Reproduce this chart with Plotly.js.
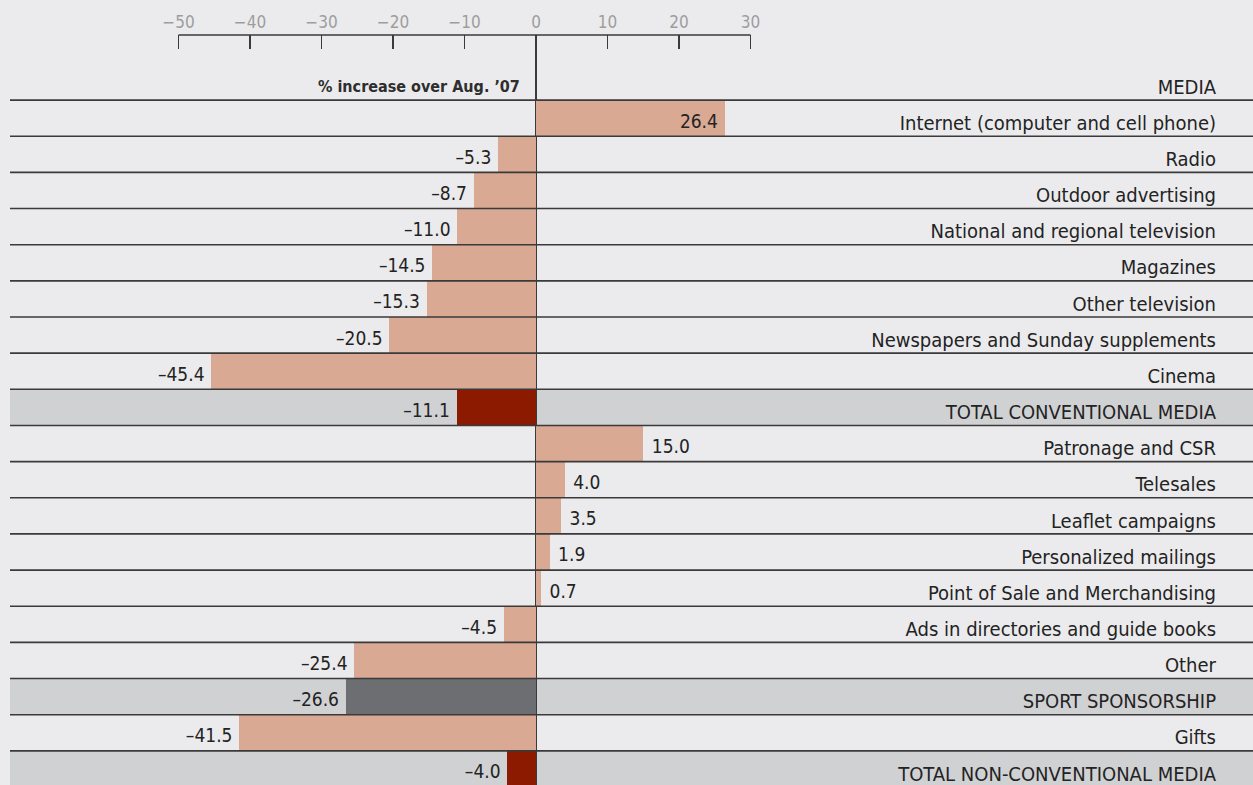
<!DOCTYPE html>
<html>
<head>
<meta charset="utf-8">
<script src="https://cdn.plot.ly/plotly-3.0.1.min.js"></script>
<style>
html,body{margin:0;padding:0;background:#ebebed;overflow:hidden;}
#chart{width:1253px;height:787px;}
</style>
</head>
<body>
<div id="chart"></div>
<script>
// ---- data ----
var categories = [
  "MEDIA",
  "Internet (computer and cell phone)",
  "Radio",
  "Outdoor advertising",
  "National and regional television",
  "Magazines",
  "Other television",
  "Newspapers and Sunday supplements",
  "Cinema",
  "TOTAL CONVENTIONAL MEDIA",
  "Patronage and CSR",
  "Telesales",
  "Leaflet campaigns",
  "Personalized mailings",
  "Point of Sale and Merchandising",
  "Ads in directories and guide books",
  "Other",
  "SPORT SPONSORSHIP",
  "Gifts",
  "TOTAL NON-CONVENTIONAL MEDIA"
];
var values = [null, 26.4, -5.3, -8.7, -11.0, -14.5, -15.3, -20.5, -45.4, -11.1,
              15.0, 4.0, 3.5, 1.9, 0.7, -4.5, -25.4, -26.6, -41.5, -4.0];
var rowKind = ["header","item","item","item","item","item","item","item","item","total",
               "item","item","item","item","item","item","item","sport","item","total"];
var tickValues = [-50, -40, -30, -20, -10, 0, 10, 20, 30];
var axisTitle = "% increase over Aug. \u201907";

// ---- styles ----
var FONT = "DejaVu Sans Condensed, Liberation Sans, sans-serif";
var kindColor = {header: "rgba(0,0,0,0)", item: "#d9a994", total: "#8b1a00", sport: "#6d6e72"};
var shadeColor = "#d0d1d3";
var lineColor = "#3a3a3a";
var textColor = "#232323";
var padNeg = "\u2009\u2009", padPos = "\u2002";

var barColors = rowKind.map(function(k){ return kindColor[k]; });
// label sits inside the bar end for the long Internet bar, outside otherwise
var labelPos = values.map(function(v, i){
  if (v === null) return "middle right";
  if (i === 1) return "middle left";
  return v < 0 ? "middle left" : "middle right";
});
var labelText = values.map(function(v, i){
  if (v === null) return "";
  var s = v.toFixed(1).replace("-", "\u2013");
  return labelPos[i] === "middle left" ? s + padNeg : padPos + s;
});

var bars = {
  type: "bar",
  orientation: "h",
  x: values,
  y: categories,
  width: 1,
  marker: {color: barColors, line: {width: 0}},
  hoverinfo: "none"
};

var labels = {
  type: "scatter",
  mode: "text",
  x: values,
  y: categories,
  yaxis: "y2",
  text: labelText,
  textposition: labelPos,
  textfont: {family: FONT, size: 19, color: textColor},
  cliponaxis: false,
  hoverinfo: "none"
};

var shapes = [];
rowKind.forEach(function(k, i){
  if (k === "total" || k === "sport") {
    shapes.push({type: "rect", layer: "below", xref: "paper", x0: 0, x1: 1,
      yref: "y", y0: i - 0.5, y1: i + 0.5, fillcolor: shadeColor, line: {width: 0}});
  }
});
for (var i = 0; i < categories.length - 1; i++) {
  shapes.push({type: "line", layer: "above", xref: "paper", x0: 0, x1: 1,
    yref: "y", y0: i + 0.5, y1: i + 0.5, line: {color: lineColor, width: 1.6}});
}
// top axis line spanning only the ticked range
shapes.push({type: "line", xref: "x", x0: tickValues[0], x1: tickValues[tickValues.length-1],
  yref: "paper", y0: 1, y1: 1, line: {color: lineColor, width: 1.5}});

var px = 7.15, zeroPx = 536, left = 10, W = 1253;
var yRange = [19.5, -1.3];
var textDrop = 0.13; // text sits slightly below row centre
var layout = {
  width: W, height: 787,
  margin: {l: left, r: 0, t: 35, b: 0, pad: 0},
  paper_bgcolor: "#ebebed",
  plot_bgcolor: "rgba(0,0,0,0)",
  showlegend: false,
  bargap: 0,
  xaxis: {
    side: "top",
    range: [(left - zeroPx) / px, (W - zeroPx) / px],
    tickvals: tickValues,
    ticks: "inside", ticklen: 14, tickwidth: 1.2, tickcolor: lineColor,
    ticklabelstandoff: 3,
    showgrid: false, showline: false,
    zeroline: true, zerolinecolor: lineColor, zerolinewidth: 1.2,
    tickfont: {family: FONT, size: 17, color: "#9d9d9f"},
    fixedrange: true
  },
  yaxis: {
    type: "category",
    range: yRange,
    showticklabels: false,
    ticks: "",
    showgrid: false, showline: false, zeroline: false,
    fixedrange: true
  },
  yaxis2: {
    type: "category",
    overlaying: "y",
    range: [yRange[0] - textDrop, yRange[1] - textDrop],
    side: "right",
    ticklabelposition: "inside",
    ticklabelstandoff: 34,
    ticks: "",
    showgrid: false, showline: false, zeroline: false,
    tickfont: {family: FONT, size: 20, color: textColor},
    fixedrange: true
  },
  shapes: shapes,
  annotations: [{
    xref: "x", x: -2.0, xanchor: "right",
    yref: "y2", y: categories[0], yanchor: "middle",
    text: "<b>" + axisTitle + "</b>", showarrow: false,
    font: {family: FONT, size: 16, color: "#2e2e2e"}
  }]
};

Plotly.newPlot("chart", [bars, labels], layout, {displayModeBar: false, staticPlot: true});
</script>
</body>
</html>
